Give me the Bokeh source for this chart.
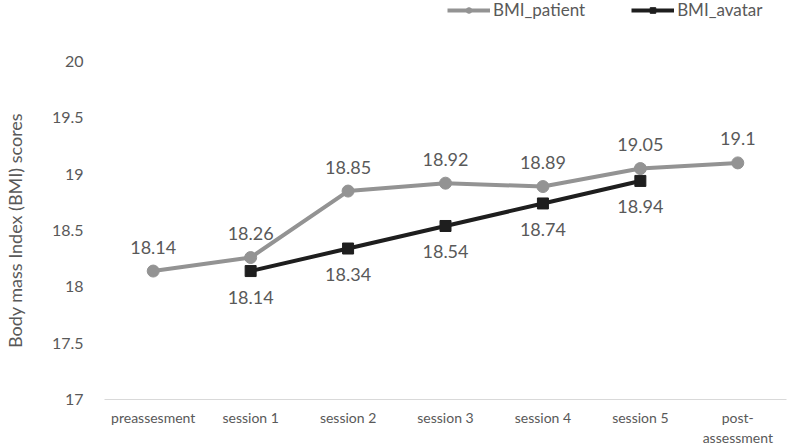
from bokeh.plotting import figure
from bokeh.layouts import column
from bokeh.models import FactorRange, Range1d, FixedTicker, Legend, LegendItem, ColumnDataSource
from bokeh.core.properties import value
from bokeh.embed import file_html
from bokeh.resources import INLINE

categories = ["preassesment", "session 1", "session 2", "session 3", "session 4", "session 5", "post-\nassessment"]
bmi_patient = [18.14, 18.26, 18.85, 18.92, 18.89, 19.05, 19.1]
avatar_categories = ["session 1", "session 2", "session 3", "session 4", "session 5"]
bmi_avatar = [18.14, 18.34, 18.54, 18.74, 18.94]
y_ticks = [17, 17.5, 18, 18.5, 19, 19.5, 20]
series_names = ["BMI_patient", "BMI_avatar"]

FONT = "Lato"
TEXT = "#595959"
GRAY = "#939393"
BLACK = "#1e1e1e"
LEG_H = 20

x_range = FactorRange(*categories)
src_p = ColumnDataSource(dict(x=categories, y=bmi_patient, t=[f"{v:g}" for v in bmi_patient]))
src_a = ColumnDataSource(dict(x=avatar_categories, y=bmi_avatar, t=[f"{v:g}" for v in bmi_avatar]))


def draw_series(fig):
    lp = fig.line("x", "y", source=src_p, line_color=GRAY, line_width=4)
    mp = fig.scatter("x", "y", source=src_p, marker="circle", size=12, fill_color=GRAY, line_color=GRAY)
    la = fig.line("x", "y", source=src_a, line_color=BLACK, line_width=4)
    ma = fig.scatter("x", "y", source=src_a, marker="square", size=11, fill_color=BLACK, line_color=BLACK)
    return lp, mp, la, ma


# ---- legend strip (series drawn off-range; only the legend is visible) ----
lg = figure(width=787, height=LEG_H, x_range=x_range, y_range=Range1d(0, 1),
            output_backend="svg", toolbar_location=None, x_axis_type=None, y_axis_type=None,
            min_border=0)
lg.outline_line_color = None
lg.grid.grid_line_color = None
lp, mp, la, ma = draw_series(lg)
legend = Legend(items=[LegendItem(label=series_names[0], renderers=[lp, mp]),
                       LegendItem(label=series_names[1], renderers=[la, ma])],
                orientation="horizontal", location=(343, 0),
                glyph_width=43, glyph_height=14, label_standoff=3, spacing=46,
                padding=0, margin=0, border_line_color=None, background_fill_alpha=0,
                label_text_font=FONT, label_text_font_size="17px", label_text_color=TEXT)
lg.add_layout(legend, "center")

# ---- main chart ----
p = figure(width=787, height=448 - LEG_H, x_range=x_range, y_range=Range1d(17, 20),
           output_backend="svg", toolbar_location=None,
           min_border_left=103, min_border_right=1, min_border_top=61 - LEG_H, min_border_bottom=48)
p.outline_line_color = None
p.xgrid.grid_line_color = None
p.ygrid.grid_line_color = None

draw_series(p)

p.text("x", "y", text="t", source=src_p, text_align="center", text_baseline="middle", y_offset=-24,
       text_font=value(FONT), text_font_size="18px", text_color=TEXT)
p.text("x", "y", text="t", source=src_a, text_align="center", text_baseline="middle", y_offset=26,
       text_font=value(FONT), text_font_size="18px", text_color=TEXT)

p.yaxis.ticker = FixedTicker(ticks=y_ticks)
p.yaxis.major_label_overrides = {(int(t) if t == int(t) else t): f"{t:g}" for t in y_ticks}
p.yaxis.axis_line_color = None
p.yaxis.major_tick_line_color = None
p.yaxis.minor_tick_line_color = None
p.yaxis.major_label_standoff = 15
p.yaxis.major_label_text_font = FONT
p.yaxis.major_label_text_font_size = "16px"
p.yaxis.major_label_text_color = TEXT
p.yaxis.axis_label = "Body mass Index (BMI) scores"
p.yaxis.axis_label_text_font = FONT
p.yaxis.axis_label_text_font_size = "18px"
p.yaxis.axis_label_text_font_style = "normal"
p.yaxis.axis_label_text_color = TEXT
p.yaxis.axis_label_standoff = 23

p.xaxis.axis_line_color = "#d9d9d9"
p.xaxis.axis_line_width = 1
p.xaxis.major_tick_line_color = None
p.xaxis.minor_tick_line_color = None
p.xaxis.major_tick_out = 0
p.xaxis.major_label_standoff = 9
p.xaxis.major_label_text_font = FONT
p.xaxis.major_label_text_font_size = "14px"
p.xaxis.major_label_text_color = TEXT

layout = column(lg, p, spacing=0)
open("out.html", "w").write(file_html(layout, INLINE))
